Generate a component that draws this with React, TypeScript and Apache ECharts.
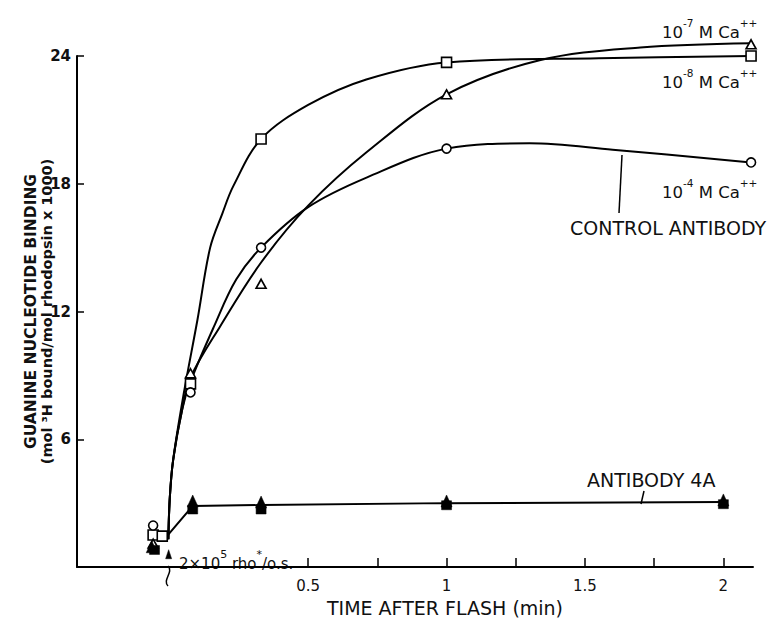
import React, { useEffect, useRef } from "react";
import * as echarts from "echarts";

// Axis ticks / labels
const X_TICKS = [0.5, 0.75, 1, 1.25, 1.5, 1.75, 2];
const X_LABELS = [0.5, 1, 1.5, 2];
const Y_TICKS = [6, 12, 18, 24];

// Measured points: [time after flash (min), binding]
const CA8_SQUARES = [[-0.06, 1.5], [-0.027, 1.45], [0.075, 8.6], [0.33, 20.1], [1, 23.7], [2.1, 24.0]];
const CA4_CIRCLES = [[-0.06, 1.95], [0.075, 8.2], [0.33, 15.0], [1, 19.65], [2.1, 19.0]];
const CA7_TRIANGLES = [[-0.06, 1.1], [0.075, 9.1], [0.33, 13.3], [1, 22.2], [2.1, 24.55]];
const AB4A_TRIANGLES = [[-0.065, 0.95], [0.083, 3.1], [0.33, 3.05], [1, 3.1], [2, 3.15]];
const AB4A_SQUARES = [[-0.055, 0.8], [0.083, 2.7], [0.33, 2.7], [1, 2.9], [2, 2.95]];
const FLASH_MARK = [[-0.004, 0.6]];

// Hand-drawn fitted curves
const CA8_CURVE = [[-0.005, 1.3], [0.0, 3.2], [0.012, 5.0], [0.05, 8.1], [0.1, 11.6], [0.146, 15.0], [0.19, 16.6], [0.23, 17.9], [0.33, 20.1], [0.5, 21.7], [0.71, 22.9], [1.0, 23.7], [1.55, 23.9], [2.1, 24.0]];
const CA4_CURVE = [[-0.005, 1.3], [0.0, 3.2], [0.012, 5.0], [0.045, 7.4], [0.075, 8.7], [0.16, 11.3], [0.24, 13.5], [0.33, 15.0], [0.5, 16.9], [0.713, 18.3], [1.0, 19.65], [1.3, 19.9], [1.6, 19.6], [2.1, 19.0]];
const CA7_CURVE = [[-0.005, 1.3], [0.0, 3.2], [0.012, 5.0], [0.045, 7.4], [0.075, 8.9], [0.182, 11.3], [0.33, 14.3], [0.5, 16.97], [0.713, 19.5], [1.0, 22.2], [1.336, 23.8], [1.7, 24.4], [2.1, 24.6]];
const AB4A_CURVE = [[-0.01, 1.45], [0.083, 2.87], [0.33, 2.91], [1, 3.0], [2, 3.05]];

const FONT = "DejaVu Sans";
const INK = "#111";

const supRich = (size: number, supSize: number, bodyLH: number, supLH: number) => ({
  n: { fontFamily: FONT, fontSize: size, lineHeight: bodyLH, verticalAlign: "bottom", fill: INK, color: INK },
  s: { fontFamily: FONT, fontSize: supSize, lineHeight: supLH, verticalAlign: "top", fill: INK, color: INK },
});

export default function App() {
  const ref = useRef<HTMLDivElement>(null);
  useEffect(() => {
    if (!ref.current) return;
    const chart = echarts.init(ref.current, undefined, { renderer: "svg" });

    const curve = (data: number[][], smooth: number | boolean) => ({
      type: "line",
      data,
      smooth,
      symbol: "none",
      clip: false,
      lineStyle: { color: "#000", width: 2 },
      silent: true,
      z: 2,
    });
    const marks = (name: string, data: number[][], symbol: string, size: any, filled: boolean) => ({
      type: "scatter",
      name,
      data,
      symbol,
      symbolSize: size,
      clip: false,
      itemStyle: { color: filled ? "#000" : "#fff", borderColor: "#000", borderWidth: filled ? 0.5 : 1.6, opacity: 1 },
      z: 3,
    });

    const caText = (exp: string) => `{n|10}{s|${exp}}{n| M Ca}{s|++}`;

    chart.setOption({
      animation: false,
      backgroundColor: "#fff",
      grid: { left: 77, right: 26, top: 56, bottom: 47, containLabel: false },
      xAxis: {
        type: "value",
        min: -0.335,
        max: 2.107,
        axisLine: { show: true, onZero: false, lineStyle: { color: "#000", width: 2 } },
        axisTick: { show: true, inside: true, length: 9, customValues: X_TICKS, lineStyle: { color: "#000", width: 1.5 } },
        axisLabel: { customValues: X_LABELS, formatter: (v: number) => String(v), fontFamily: FONT, fontSize: 15, lineHeight: 15, color: INK, margin: 11 },
        splitLine: { show: false },
        name: "TIME AFTER FLASH (min)",
        nameLocation: "middle",
        nameGap: 31,
        nameMoveOverlap: false,
        nameTextStyle: { fontFamily: FONT, fontSize: 19, lineHeight: 19, color: INK, padding: [0, 0, 0, 60] },
      },
      yAxis: {
        type: "value",
        min: 0,
        max: 24,
        interval: 6,
        axisLine: { show: true, onZero: false, lineStyle: { color: "#000", width: 2 } },
        axisTick: { show: true, inside: true, length: 7, customValues: Y_TICKS, lineStyle: { color: "#000", width: 1.5 } },
        axisLabel: { customValues: Y_TICKS, fontFamily: FONT, fontSize: 15, fontWeight: "bold", color: INK, margin: 6 },
        splitLine: { show: false },
        name: "{a|GUANINE NUCLEOTIDE BINDING}\n{b|(mol ³H bound/mol rhodopsin x 1000)}",
        nameLocation: "middle",
        nameGap: 22,
        nameMoveOverlap: false,
        nameTextStyle: {
          rich: {
            a: { fontFamily: FONT, fontSize: 15.5, fontWeight: "bold", color: INK, lineHeight: 16 },
            b: { fontFamily: FONT, fontSize: 14.5, fontWeight: "bold", color: INK, lineHeight: 16 },
          },
        },
      },
      series: [
        curve(CA8_CURVE, 0.35),
        curve(CA4_CURVE, 0.35),
        curve(CA7_CURVE, 0.35),
        curve(AB4A_CURVE, false),
        marks("10-8 M Ca++", CA8_SQUARES, "rect", 10, false),
        marks("10-4 M Ca++", CA4_CIRCLES, "circle", 9, false),
        marks("10-7 M Ca++", CA7_TRIANGLES, "triangle", [10, 9], false),
        marks("Antibody 4A (triangles)", AB4A_TRIANGLES, "triangle", [11, 12], true),
        marks("Antibody 4A (squares)", AB4A_SQUARES, "rect", [10, 9], true),
        marks("flash", FLASH_MARK, "triangle", [6, 9], true),
      ],
      graphic: [
        { type: "text", x: 662, y: 29, style: { text: caText("-7"), rich: supRich(16.5, 10.5, 24, 8), verticalAlign: "middle", fill: INK } },
        { type: "text", x: 662, y: 79, style: { text: caText("-8"), rich: supRich(16.5, 10.5, 24, 8), verticalAlign: "middle", fill: INK } },
        { type: "text", x: 662, y: 189, style: { text: caText("-4"), rich: supRich(16.5, 10.5, 24, 8), verticalAlign: "middle", fill: INK } },
        { type: "text", x: 570, y: 228, style: { text: "CONTROL ANTIBODY", fontFamily: FONT, fontSize: 19, fill: INK, verticalAlign: "middle" } },
        { type: "line", shape: { x1: 622, y1: 155, x2: 619, y2: 213 }, style: { stroke: "#000", lineWidth: 1.5 } },
        { type: "text", x: 587, y: 480, style: { text: "ANTIBODY 4A", fontFamily: FONT, fontSize: 19, fill: INK, verticalAlign: "middle" } },
        { type: "line", shape: { x1: 644, y1: 491, x2: 641, y2: 504 }, style: { stroke: "#000", lineWidth: 1.5 } },
        {
          type: "text",
          x: 179,
          y: 560,
          style: {
            text: "{n|2×10}{s|5}{n| rho}{s|*}{n|/o.s.}",
            rich: supRich(15, 11, 22, 8),
            verticalAlign: "middle",
            fill: INK,
          },
        },
        {
          type: "bezierCurve",
          shape: { x1: 168, y1: 566, x2: 168, y2: 586, cpx1: 174, cpy1: 572, cpx2: 162, cpy2: 580 },
          style: { stroke: "#000", lineWidth: 1.5, fill: "none" },
          z: 10,
        },
      ],
    });
    return () => chart.dispose();
  }, []);
  return <div ref={ref} style={{ position: "absolute", left: 0, top: 0, width: 779, height: 622 }} />;
}
